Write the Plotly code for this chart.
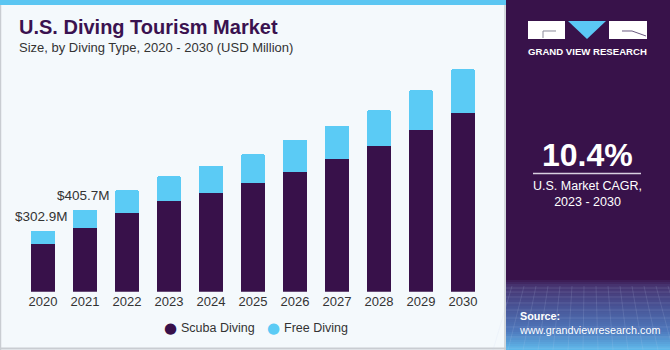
import plotly.graph_objects as go

years = ["2020", "2021", "2022", "2023", "2024", "2025", "2026", "2027", "2028", "2029", "2030"]
scuba = [238, 317, 391, 449, 490, 538, 593, 657, 723, 800, 883]
free = [64.9, 88.7, 111, 122, 134, 142, 158, 163, 176, 198, 218]
label_years = ["2020", "2021"]
label_texts = ["$302.9M", "$405.7M"]
label_totals = [302.9, 405.7]
series_names = ["Scuba Diving", "Free Diving"]

SCUBA_C = "#38114A"
FREE_C = "#5BCBF5"
FONT = "Liberation Sans"
W, H = 670, 350


def px(x):
    return x / W


def py(y):
    return 1 - y / H


fig = go.Figure()
fig.add_trace(go.Bar(x=years, y=scuba, name=series_names[0], marker_color=SCUBA_C,
                     marker_line_width=0, showlegend=False))
fig.add_trace(go.Bar(x=years, y=free, name=series_names[1], marker_color=FREE_C,
                     marker_line_width=0, showlegend=False))

shapes = []
# chart background panel
shapes.append(dict(type="rect", xref="paper", yref="paper", x0=px(0), x1=px(506), y0=py(350), y1=py(0),
                   fillcolor="#F4F9FC", line=dict(width=0), layer="below"))
# borders
shapes.append(dict(type="line", xref="paper", yref="paper", x0=px(0.5), x1=px(0.5), y0=py(350), y1=py(0),
                   line=dict(color="#C9CDD2", width=1.5), layer="below"))
shapes.append(dict(type="line", xref="paper", yref="paper", x0=px(0), x1=px(506), y0=py(348.5), y1=py(348.5),
                   line=dict(color="#C9CDD2", width=2), layer="below"))
shapes.append(dict(type="line", xref="paper", yref="paper", x0=px(505), x1=px(505), y0=py(350), y1=py(0),
                   line=dict(color="#C9CDD2", width=1.5), layer="below"))
# top strip
shapes.append(dict(type="rect", xref="paper", yref="paper", x0=px(0), x1=px(506), y0=py(5), y1=py(0),
                   fillcolor="#5BC6F2", line=dict(width=0), layer="below"))
# right panel
shapes.append(dict(type="rect", xref="paper", yref="paper", x0=px(506), x1=px(670), y0=py(350), y1=py(0),
                   fillcolor="#38124A", line=dict(width=0), layer="below"))


def lerp(c1, c2, t):
    return tuple(int(round(a + (b - a) * t)) for a, b in zip(c1, c2))


stops = [(278, (56, 18, 74)), (284, (70, 50, 110)), (305, (72, 82, 148)), (330, (78, 120, 188)), (350, (96, 190, 238))]
y = 278
while y < 350:
    for i in range(len(stops) - 1):
        if stops[i][0] <= y < stops[i + 1][0]:
            t = (y - stops[i][0]) / (stops[i + 1][0] - stops[i][0])
            c = lerp(stops[i][1], stops[i + 1][1], t)
            break
    shapes.append(dict(type="rect", xref="paper", yref="paper", x0=px(506), x1=px(670),
                       y0=py(min(y + 2, 350)), y1=py(y), fillcolor="rgb(%d,%d,%d)" % c,
                       line=dict(width=0), layer="below"))
    y += 2
# faint grid texture
for gx in range(512, 670, 12):
    shapes.append(dict(type="line", xref="paper", yref="paper", x0=px(gx), x1=px(gx + (gx - 588) * 0.25),
                       y0=py(286), y1=py(350), line=dict(color="rgba(200,215,240,0.18)", width=0.8), layer="below"))
for gy in [288, 292, 297, 303, 310, 318, 327, 337, 348]:
    shapes.append(dict(type="line", xref="paper", yref="paper", x0=px(506), x1=px(670),
                       y0=py(gy), y1=py(gy), line=dict(color="rgba(200,215,240,0.18)", width=0.8), layer="below"))

# logo
shapes.append(dict(type="rect", xref="paper", yref="paper", x0=px(528), x1=px(565), y0=py(39), y1=py(21),
                   fillcolor="white", line=dict(width=0)))
shapes.append(dict(type="path", xref="paper", yref="paper",
                   path="M %f %f L %f %f L %f %f" % (px(543), py(38), px(543), py(31), px(556), py(31)),
                   line=dict(color="#8A8A9A", width=1)))
shapes.append(dict(type="path", xref="paper", yref="paper",
                   path="M %f %f L %f %f L %f %f Z" % (px(568), py(21), px(606), py(21), px(587), py(39)),
                   fillcolor="#5BC8F5", line=dict(width=0)))
shapes.append(dict(type="rect", xref="paper", yref="paper", x0=px(609), x1=px(647), y0=py(39), y1=py(21),
                   fillcolor="white", line=dict(width=0)))
shapes.append(dict(type="path", xref="paper", yref="paper",
                   path="M %f %f L %f %f L %f %f" % (px(622), py(31), px(632), py(31), px(646), py(36)),
                   line=dict(color="#6A5A80", width=1)))
# CAGR divider line
shapes.append(dict(type="line", xref="paper", yref="paper", x0=px(533), x1=px(641), y0=py(173.5), y1=py(173.5),
                   line=dict(color="#D8D0E0", width=1.5)))

annotations = [
    dict(text="<b>U.S. Diving Tourism Market</b>", x=px(17), y=py(27), xref="paper", yref="paper",
         xanchor="left", yanchor="middle", showarrow=False, font=dict(family=FONT, size=20, color="#3A1250")),
    dict(text="Size, by Diving Type, 2020 - 2030 (USD Million)", x=px(17), y=py(48), xref="paper", yref="paper",
         xanchor="left", yanchor="middle", showarrow=False, font=dict(family=FONT, size=13, color="#333333")),
    dict(text="<b>GRAND VIEW RESEARCH</b>", x=px(587.5), y=py(51.5), xref="paper", yref="paper",
         xanchor="center", yanchor="middle", showarrow=False, font=dict(family=FONT, size=9.6, color="white")),
    dict(text="<b>10.4%</b>", x=px(587), y=py(155), xref="paper", yref="paper",
         xanchor="center", yanchor="middle", showarrow=False, font=dict(family=FONT, size=32, color="white")),
    dict(text="U.S. Market CAGR,<br>2023 - 2030", x=px(587), y=py(193.5), xref="paper", yref="paper",
         xanchor="center", yanchor="middle", showarrow=False, align="center",
         font=dict(family=FONT, size=12.5, color="white")),
    dict(text="<b>Source:</b><br>www.grandviewresearch.com", x=px(517), y=py(323), xref="paper", yref="paper",
         xanchor="left", yanchor="middle", showarrow=False, align="left",
         font=dict(family=FONT, size=10.8, color="white")),
]
for yr, txt, tot in zip(label_years, label_texts, label_totals):
    annotations.append(dict(text=txt, x=years.index(yr), y=tot, xref="x", yref="y", xanchor="right",
                            yanchor="bottom", xshift=27, yshift=5, showarrow=False,
                            font=dict(family=FONT, size=13.5, color="#333333")))

# legend (round markers)
legend_x = [170, 273]
for name, col, lx in zip(series_names, [SCUBA_C, FREE_C], legend_x):
    annotations.append(dict(text="●", x=px(lx), y=py(327.5), xref="paper", yref="paper", xanchor="center",
                            yanchor="middle", showarrow=False, font=dict(family="DejaVu Sans", size=15, color=col)))
    annotations.append(dict(text=name, x=px(lx + 9), y=py(327.5), xref="paper", yref="paper", xanchor="left",
                            yanchor="middle", showarrow=False, font=dict(family=FONT, size=12.5, color="#333333")))

fig.update_layout(
    width=W, height=H,
    margin=dict(l=0, r=0, t=0, b=0),
    paper_bgcolor="#F4F9FC",
    plot_bgcolor="rgba(0,0,0,0)",
    barmode="stack",
    bargap=0.42,
    barcornerradius=2,
    font=dict(family=FONT, color="#333333"),
    xaxis=dict(domain=[px(22), px(484)], type="category", range=[-0.5, 10.5], showgrid=False, zeroline=False,
               showline=False, ticks="", tickfont=dict(family=FONT, size=13, color="#333333")),
    yaxis=dict(domain=[py(291.7), py(60)], range=[0, 1147], showgrid=False, zeroline=False,
               showline=False, showticklabels=False),
    showlegend=False,
    shapes=shapes,
    annotations=annotations,
)

fig.write_html("out.html")
